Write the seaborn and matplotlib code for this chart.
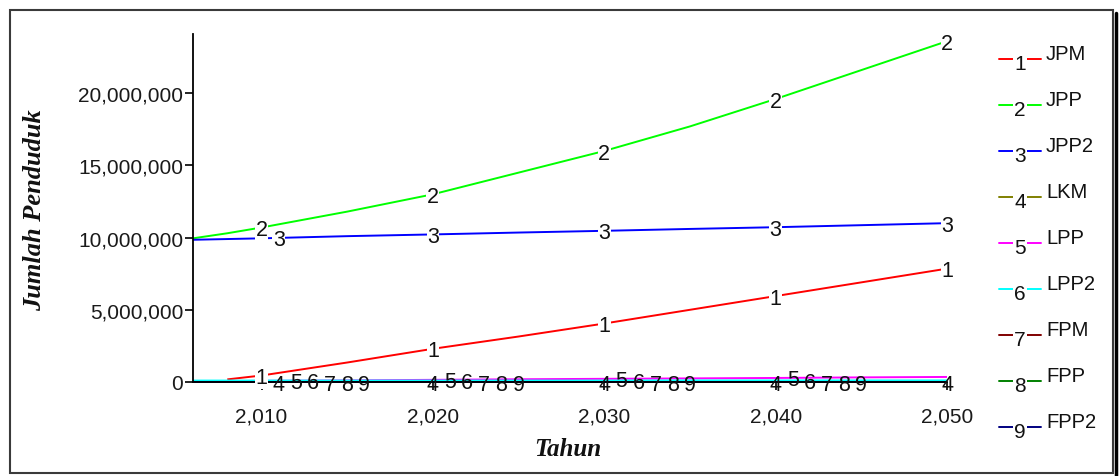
import numpy as np
import pandas as pd
import matplotlib
matplotlib.use("Agg")
import matplotlib.pyplot as plt
import seaborn as sns
from matplotlib.lines import Line2D
from matplotlib.patches import Rectangle
from matplotlib.ticker import FuncFormatter

# ---------------- data ----------------
years = [2006, 2008, 2010, 2015, 2020, 2025, 2030, 2035, 2040, 2045, 2050]
jpm  = [np.nan, 0.18e6, 0.45e6, 1.35e6, 2.30e6, 3.15e6, 4.05e6, 5.00e6, 5.95e6, 6.90e6, 7.85e6]
jpp  = [9.95e6, 10.30e6, 10.70e6, 11.80e6, 13.00e6, 14.50e6, 16.00e6, 17.70e6, 19.60e6, 21.60e6, 23.60e6]
jpp2 = [9.85e6, 9.90e6, 9.95e6, 10.10e6, 10.22e6, 10.35e6, 10.47e6, 10.60e6, 10.72e6, 10.86e6, 11.00e6]
lkm  = [0.0, 0.0, 0.0, 0.0, 0.0, 0.0, 0.0, 0.0, 0.0, 0.0, 0.0]
lpp  = [0.05e6, 0.06e6, 0.08e6, 0.11e6, 0.15e6, 0.19e6, 0.22e6, 0.25e6, 0.28e6, 0.32e6, 0.35e6]
lpp2 = [0.10e6, 0.10e6, 0.10e6, 0.10e6, 0.10e6, 0.10e6, 0.10e6, 0.11e6, 0.11e6, 0.11e6, 0.11e6]
fpm  = [0.0, 0.0, 0.0, 0.0, 0.0, 0.0, 0.0, 0.0, 0.0, 0.0, 0.0]
fpp  = [0.0, 0.0, 0.0, 0.0, 0.0, 0.0, 0.0, 0.0, 0.0, 0.0, 0.0]
fpp2 = [0.0, 0.0, 0.0, 0.0, 0.0, 0.0, 0.0, 0.0, 0.0, 0.0, 0.0]

series_names = ["JPM", "JPP", "JPP2", "LKM", "LPP", "LPP2", "FPM", "FPP", "FPP2"]
series_values = [jpm, jpp, jpp2, lkm, lpp, lpp2, fpm, fpp, fpp2]
series_colors = ["#ff0000", "#00ff00", "#0000ff", "#808000", "#ff00ff",
                 "#00ffff", "#800000", "#008000", "#000080"]

# years where each series' number label sits on its line
label_years = {
    "JPM":  [2010, 2020, 2030, 2040, 2050],
    "JPP":  [2010, 2020, 2030, 2040, 2050],
    "JPP2": [2011, 2020, 2030, 2040, 2050],
    "LKM":  [2011, 2020, 2030, 2040, 2050],
    "LPP":  [2012, 2021, 2031, 2041],
    "LPP2": [2013, 2022, 2032, 2042],
    "FPM":  [2014, 2023, 2033, 2043],
    "FPP":  [2015, 2024, 2034, 2044],
    "FPP2": [2016, 2025, 2035, 2045],
}

xticks = [2010, 2020, 2030, 2040, 2050]
yticks = [0, 5_000_000, 10_000_000, 15_000_000, 20_000_000]
x_label = "Tahun"
y_label = "Jumlah Penduduk"

# ---------------- figure ----------------
W, H = 1120, 477
sns.set_theme(style="white")
plt.rcParams["font.family"] = ["Liberation Sans", "DejaVu Sans"]

fig = plt.figure(figsize=(W / 100, H / 100), dpi=100)
fig.patch.set_facecolor("white")

def fx(px):
    return px / W

def fy(py):
    return 1 - py / H

ax = fig.add_axes([fx(193), fy(383), fx(947) - fx(193), fy(35) - fy(383)])
ax.set_facecolor("white")

rows = []
for name, vals in zip(series_names, series_values):
    for yr, v in zip(years, vals):
        rows.append({"year": yr, "value": v, "series": name})
df = pd.DataFrame(rows)

sns.lineplot(data=df, x="year", y="value", hue="series",
             hue_order=series_names, palette=series_colors,
             linewidth=1.4, legend=False, ax=ax, estimator=None, sort=True)
for ln in ax.get_lines():
    ln.set_clip_on(False)
    ln.set_solid_capstyle("butt")

ax.set_xlim(2006, 2050)
ax.set_ylim(0, 24.1e6)

# number labels on the lines
for k, (name, vals) in enumerate(zip(series_names, series_values), start=1):
    arr = np.array(vals, dtype=float)
    msk = ~np.isnan(arr)
    xs = np.array(years, dtype=float)[msk]
    ys = arr[msk]
    for yr in label_years[name]:
        yv = np.interp(yr, xs, ys)
        kw = {}
        if k <= 3:
            kw["bbox"] = dict(boxstyle="square,pad=0.02", fc="white", ec="none")
        ax.annotate(str(k), (yr, yv), xytext=(0, -1.5), textcoords="offset points",
                    ha="center", va="center", fontsize=15.5, color="#111111",
                    zorder=6, annotation_clip=False, **kw)

# axes styling
for s in ["top", "right"]:
    ax.spines[s].set_visible(False)
for s in ["left", "bottom"]:
    ax.spines[s].set_color("black")
    ax.spines[s].set_linewidth(1.3)
    ax.spines[s].set_zorder(4)

ax.set_xticks(xticks)
ax.set_yticks(yticks)
ax.xaxis.set_major_formatter(FuncFormatter(lambda v, p: f"{int(round(v)):,}"))
ax.yaxis.set_major_formatter(FuncFormatter(lambda v, p: f"{int(round(v)):,}"))
ax.tick_params(axis="y", direction="out", length=6, width=1.2, color="black",
               labelsize=15, labelcolor="#1a1a1a", pad=1, left=True)
ax.tick_params(axis="x", direction="out", length=6, width=1.2, color="black",
               labelsize=15, labelcolor="#1a1a1a", pad=12, bottom=True)
ax.grid(False)

ax.set_xlabel("")
ax.set_ylabel("")
fig.text(fx(568), fy(450), x_label, ha="center", va="center",
         family=["Liberation Serif", "DejaVu Serif"], fontweight="bold",
         fontstyle="italic", fontsize=18, color="#111111")
fig.text(fx(35), fy(210), y_label, ha="center", va="center", rotation=90,
         family=["Liberation Serif", "DejaVu Serif"], fontweight="bold",
         fontstyle="italic", fontsize=19, color="#111111")

# legend (drawn manually, Vensim style)
for i, (name, col) in enumerate(zip(series_names, series_colors)):
    ly = 60 + 46 * i
    fig.add_artist(Line2D([fx(999), fx(1041)], [fy(ly), fy(ly)], color=col,
                          linewidth=1.4, transform=fig.transFigure))
    fig.text(fx(1020), fy(ly + 5), str(i + 1), ha="center", va="center",
             fontsize=15, color="#111111",
             bbox=dict(boxstyle="square,pad=0.05", fc="white", ec="none"))
    fig.text(fx(1046), fy(ly - 5), name, ha="left", va="center",
             fontsize=14.5, color="#111111")

# outer frame with shadow on the right
fig.add_artist(Rectangle((fx(10), fy(474)), fx(1113) - fx(10), fy(11) - fy(474),
                         transform=fig.transFigure, fill=False,
                         edgecolor="#3a3a3a", linewidth=1.5))
fig.add_artist(Line2D([fx(1115.5), fx(1115.5)], [fy(14), fy(477)], color="black",
                      linewidth=2.5, transform=fig.transFigure))

fig.savefig("out.png", dpi=100, facecolor="white")
